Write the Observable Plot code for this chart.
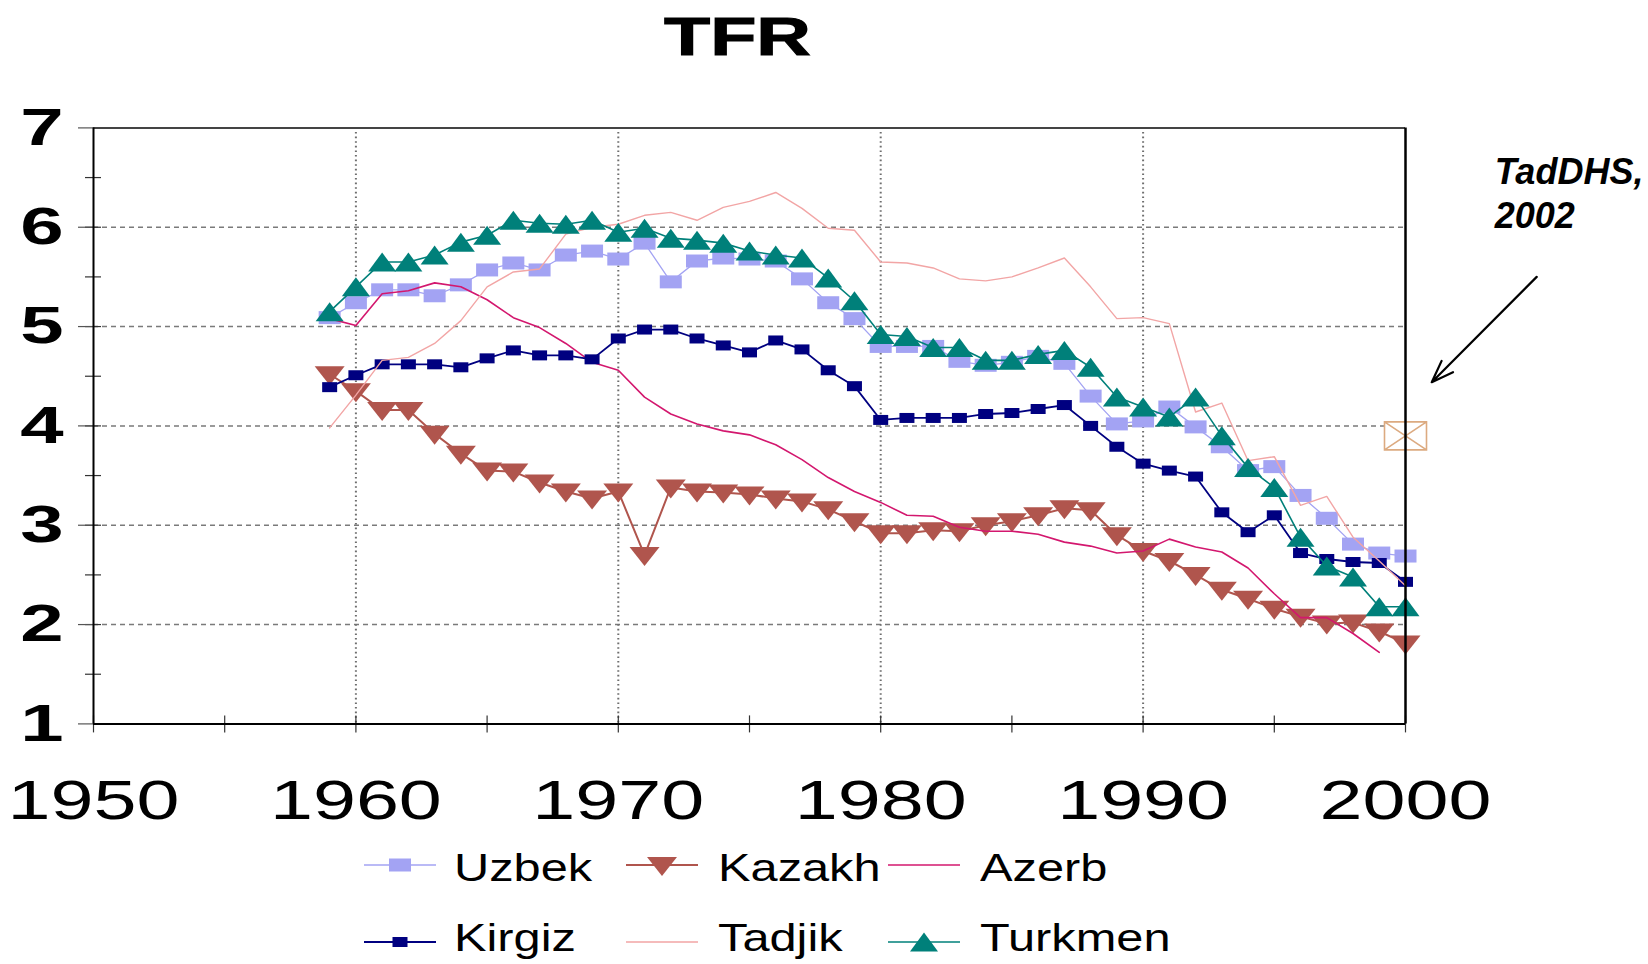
<!DOCTYPE html>
<html>
<head>
<meta charset="utf-8">
<script src="https://cdn.jsdelivr.net/npm/d3@7"></script>
<script src="https://cdn.jsdelivr.net/npm/@observablehq/plot@0.6"></script>
<style>
  body { margin: 0; background: #fff; }
  #wrap { position: relative; width: 1648px; height: 964px; overflow: hidden;
          font-family: "Liberation Sans", Arial, sans-serif; color: #000; background: #fff; }
  #title { position: absolute; left: 0; top: 9px; width: 1475px; text-align: center; }
  #title span { display: inline-block; font-size: 54px; font-weight: bold; line-height: 1;
                transform: scaleX(1.4); -webkit-text-stroke: 1px #000; }
  #chart { position: absolute; left: 0; top: 70px; }
  .leg-sym { position: absolute; overflow: visible; }
  .leg-txt { position: absolute; font-size: 39px; line-height: 39px; white-space: nowrap;
             transform: scaleX(1.25); transform-origin: left center; }
</style>
</head>
<body>
<div id="wrap">
  <div id="title"><span>TFR</span></div>
  <div id="chart"></div>
  <div id="legend"></div>
</div>
<script>
// ---------------- data ----------------
const years = [1959,1960,1961,1962,1963,1964,1965,1966,1967,1968,1969,1970,1971,1972,1973,1974,1975,1976,1977,1978,1979,
               1980,1981,1982,1983,1984,1985,1986,1987,1988,1989,1990,1991,1992,1993,1994,1995,1996,1997,1998,1999,2000];

const seriesNames = ["Uzbek", "Kazakh", "Azerb", "Kirgiz", "Tadjik", "Turkmen"];

const uzbek = [5.09,5.24,5.37,5.37,5.31,5.42,5.57,5.64,5.57,5.72,5.76,5.68,5.84,5.45,5.66,5.69,5.68,5.66,5.48,5.24,5.08,
               4.80,4.80,4.80,4.65,4.61,4.64,4.70,4.63,4.30,4.02,4.05,4.19,3.99,3.79,3.55,3.59,3.30,3.07,2.81,2.72,2.69];
const kazakh = [4.52,4.35,4.16,4.16,3.92,3.72,3.55,3.54,3.43,3.34,3.27,3.34,2.70,3.38,3.34,3.33,3.31,3.27,3.24,3.16,3.04,
                2.92,2.92,2.95,2.94,3.00,3.04,3.10,3.17,3.15,2.90,2.74,2.64,2.50,2.35,2.26,2.16,2.08,2.01,2.02,1.93,1.81];
const azerb = [5.08,5.01,5.33,5.36,5.44,5.40,5.27,5.09,4.99,4.83,4.64,4.56,4.29,4.12,4.02,3.95,3.91,3.81,3.66,3.48,3.34,
               3.23,3.10,3.09,2.98,2.94,2.94,2.91,2.83,2.79,2.72,2.74,2.86,2.78,2.73,2.57,2.31,2.07,2.07,1.91,1.72];
const kirgiz = [4.39,4.51,4.62,4.62,4.62,4.59,4.68,4.76,4.71,4.71,4.67,4.88,4.97,4.97,4.88,4.81,4.74,4.86,4.77,4.56,4.40,
                4.06,4.08,4.08,4.08,4.12,4.13,4.17,4.21,4.00,3.79,3.62,3.55,3.49,3.13,2.93,3.10,2.72,2.66,2.63,2.62,2.43];
const tadjik = [3.98,4.31,4.66,4.69,4.83,5.06,5.40,5.55,5.58,5.93,6.00,6.03,6.12,6.15,6.07,6.20,6.26,6.35,6.19,5.99,5.97,
                5.65,5.64,5.59,5.48,5.46,5.50,5.59,5.69,5.40,5.08,5.09,5.03,4.14,4.23,3.65,3.69,3.20,3.29,2.88,2.64,2.39];
const turkmen = [5.15,5.40,5.65,5.65,5.72,5.85,5.92,6.07,6.04,6.03,6.07,5.95,5.99,5.89,5.87,5.84,5.76,5.72,5.69,5.49,5.26,
                 4.92,4.90,4.79,4.79,4.66,4.66,4.72,4.76,4.59,4.29,4.19,4.09,4.29,3.90,3.58,3.38,2.88,2.59,2.48,2.18,2.18];

// TadDHS 2002 survey point, drawn at the 2000 edge
const dhsYears = [2000];
const dhsValues = [3.9];
const noteLines = ["TadDHS,", "2002"];
const noteYears = [2003.4, 2003.4];
const noteValues = [6.44, 5.99];
const arrowFromYear = [2005.0], arrowFromValue = [5.50];
const arrowToYear = [2001.0], arrowToValue = [4.44];

// ticks
const xTickLabels = [1950, 1960, 1970, 1980, 1990, 2000];
const xMinorTicks = [1950, 1955, 1960, 1965, 1970, 1975, 1980, 1985, 1990, 1995, 2000];
const xGridLines = [1960, 1970, 1980, 1990];
const yTickLabels = [1, 2, 3, 4, 5, 6, 7];
const yHalfTicks = [1.5, 2, 2.5, 3, 3.5, 4, 4.5, 5, 5.5, 6, 6.5];
const yGridLines = [2, 3, 4, 5, 6];

// ---------------- styles ----------------
const rectSym = (w, h) => ({draw(ctx) { ctx.moveTo(-w/2, -h/2); ctx.lineTo(w/2, -h/2); ctx.lineTo(w/2, h/2); ctx.lineTo(-w/2, h/2); ctx.closePath(); }});
const triUp = (w, h) => ({draw(ctx) { ctx.moveTo(0, -h/2); ctx.lineTo(w/2, h/2); ctx.lineTo(-w/2, h/2); ctx.closePath(); }});
const triDown = (w, h) => ({draw(ctx) { ctx.moveTo(-w/2, -h*0.42); ctx.lineTo(w/2, -h*0.42); ctx.lineTo(0, h*0.58); ctx.closePath(); }});
const boxX = (w, h) => ({draw(ctx) {
  ctx.moveTo(-w/2, -h/2); ctx.lineTo(w/2, -h/2); ctx.lineTo(w/2, h/2); ctx.lineTo(-w/2, h/2); ctx.closePath();
  ctx.moveTo(-w/2, -h/2); ctx.lineTo(w/2, h/2); ctx.moveTo(w/2, -h/2); ctx.lineTo(-w/2, h/2);
}});

const seriesValues = {Uzbek: uzbek, Kazakh: kazakh, Azerb: azerb, Kirgiz: kirgiz, Tadjik: tadjik, Turkmen: turkmen};
const seriesStyle = {
  Uzbek:   {color: "#a3a3f3", width: 1.3, sym: rectSym(22, 13)},
  Kazakh:  {color: "#b0554d", width: 2.0, sym: triDown(30, 19)},
  Azerb:   {color: "#d3176e", width: 1.6, sym: null},
  Kirgiz:  {color: "#000080", width: 1.8, sym: rectSym(15, 10)},
  Tadjik:  {color: "#f2a5a5", width: 1.4, sym: null},
  Turkmen: {color: "#00807a", width: 1.6, sym: triUp(28, 19)}
};

const rows = name => seriesValues[name].map((v, i) => ({year: years[i], value: v}));

const seriesMarks = seriesNames.flatMap(name => {
  const st = seriesStyle[name];
  const data = rows(name);
  const m = [Plot.line(data, {x: "year", y: "value", stroke: st.color, strokeWidth: st.width})];
  if (st.sym) m.push(Plot.dot(data, {x: "year", y: "value", symbol: st.sym, fill: st.color, stroke: "none"}));
  return m;
});

const dhsRows = dhsYears.map((y, i) => ({year: y, value: dhsValues[i]}));
const noteRows = noteLines.map((t, i) => ({text: t, year: noteYears[i], value: noteValues[i]}));
const arrowRows = arrowFromYear.map((y, i) => ({x1: y, y1: arrowFromValue[i], x2: arrowToYear[i], y2: arrowToValue[i]}));

const chart = Plot.plot({
  width: 1648,
  height: 770,
  marginTop: 57.4,
  marginLeft: 93,
  marginRight: 243,
  marginBottom: 116.6,
  x: {domain: [1950, 2000], label: null},
  y: {domain: [1, 7], label: null},
  style: {fontFamily: "'Liberation Sans', Arial, sans-serif", color: "black", background: "white", overflow: "visible"},
  marks: [
    Plot.gridY(yGridLines, {stroke: "#7a7a7a", strokeOpacity: 1, strokeWidth: 1.5, strokeDasharray: "5,4"}),
    Plot.gridX(xGridLines, {stroke: "#6e6e6e", strokeOpacity: 1, strokeWidth: 2, strokeDasharray: "1.6,3"}),
    Plot.ruleY(yHalfTicks, {x1: 1950, x2: 1950, insetLeft: -8, insetRight: -8, stroke: "#333", strokeWidth: 1.2}),
    Plot.ruleY(yTickLabels, {x1: 1950, x2: 1950, insetLeft: -15, insetRight: 0, stroke: "#555", strokeWidth: 1.2}),
    Plot.ruleX(xMinorTicks, {y1: 1, y2: 1, insetTop: -8, insetBottom: -9, stroke: "#333", strokeWidth: 1.2}),
    Plot.axisX(xTickLabels, {tickSize: 0, tickPadding: 55, fontSize: 56, tickFormat: d => String(d), label: null}),
    Plot.axisY(yTickLabels, {tickSize: 0, tickPadding: 30, fontSize: 52, fontWeight: "bold", tickFormat: d => String(d), label: null}),
    ...seriesMarks,
    Plot.dot(dhsRows, {x: "year", y: "value", symbol: boxX(42, 28), fill: "white", stroke: "#dcaa80", strokeWidth: 1.6}),
    Plot.ruleY([7], {stroke: "#444", strokeWidth: 2}),
    Plot.ruleY([1], {stroke: "black", strokeWidth: 2}),
    Plot.ruleX([1950], {stroke: "black", strokeWidth: 2}),
    Plot.ruleX([2000], {stroke: "black", strokeWidth: 2.5}),
    Plot.arrow(arrowRows, {x1: "x1", y1: "y1", x2: "x2", y2: "y2", stroke: "black", strokeWidth: 2.2,
                           headLength: 16, headAngle: 40}),
    Plot.text(noteRows, {x: "year", y: "value", text: "text", textAnchor: "start", lineAnchor: "bottom",
                         fontSize: 36, fontWeight: "bold", fontStyle: "italic", fill: "black"})
  ]
});

document.getElementById("chart").appendChild(chart);

// stretch the axis labels horizontally like the reference
const xSet = new Set(xTickLabels.map(String));
const ySet = new Set(yTickLabels.map(String));
d3.select(chart).selectAll("text").each(function() {
  const s = this.textContent.trim();
  let sx = null;
  if (xSet.has(s)) { sx = 1.38; this.setAttribute("font-size", 56); }
  else if (ySet.has(s)) { sx = 1.5; this.setAttribute("font-size", 52); this.setAttribute("font-weight", "bold"); }
  if (sx == null) return;
  const t = this.getAttribute("transform");
  if (t) this.setAttribute("transform", t + ` scale(${sx},1)`);
  else {
    const w = this.getComputedTextLength();
    this.setAttribute("textLength", w * sx);
    this.setAttribute("lengthAdjust", "spacingAndGlyphs");
  }
});

// ---------------- legend ----------------
const legendCols = [364, 626, 888];
const legendTextCols = [454, 718, 980];
const legendRowCenters = [865, 942];
const legendRowBaselines = [881, 951];
const legend = d3.select("#legend");
seriesNames.forEach((name, i) => {
  const col = i % 3, row = Math.floor(i / 3);
  const st = seriesStyle[name];
  const svg = legend.append("svg").attr("class", "leg-sym")
    .attr("width", 72).attr("height", 30)
    .style("left", legendCols[col] + "px").style("top", (legendRowCenters[row] - 15) + "px");
  svg.append("line").attr("x1", 0).attr("x2", 72).attr("y1", 15).attr("y2", 15)
    .attr("stroke", st.color).attr("stroke-width", st.width);
  if (st.sym) {
    const p = d3.path();
    st.sym.draw(p, 0);
    svg.append("path").attr("d", p.toString()).attr("transform", "translate(36,15)").attr("fill", st.color);
  }
  legend.append("div").attr("class", "leg-txt")
    .style("left", legendTextCols[col] + "px").style("top", (legendRowBaselines[row] - 33) + "px")
    .text(name);
});
</script>
</body>
</html>
